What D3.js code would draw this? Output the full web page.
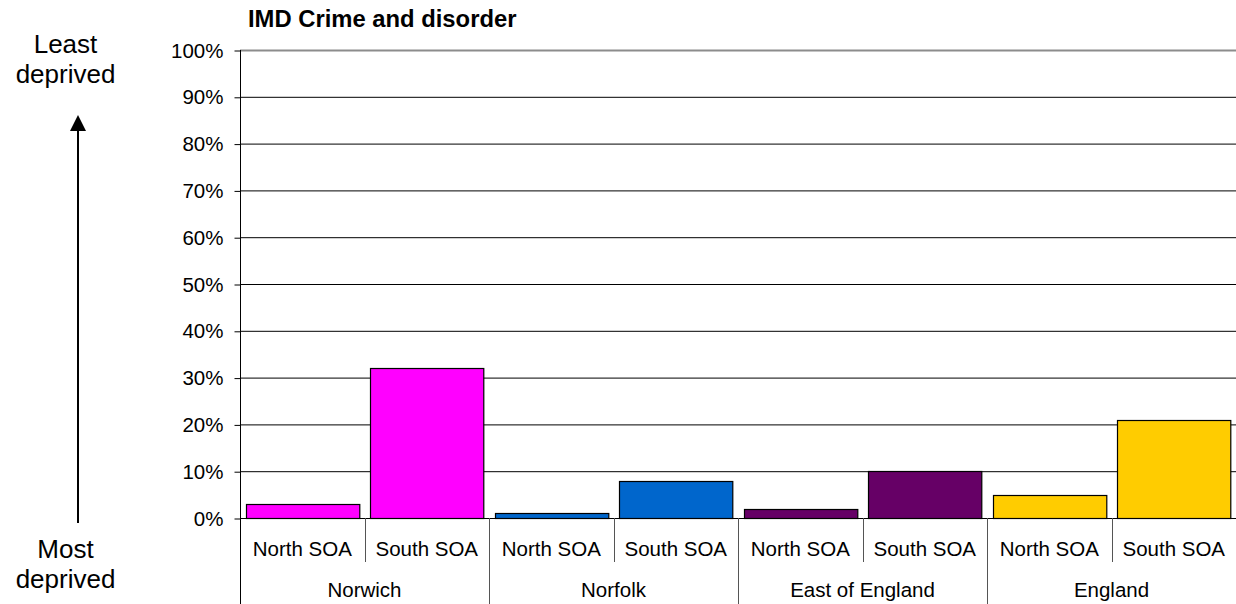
<!DOCTYPE html>
<html>
<head>
<meta charset="utf-8">
<script src="https://cdn.jsdelivr.net/npm/d3@7"></script>
<style>
  html, body { margin: 0; padding: 0; background: #fff; }
  svg { display: block; font-family: Arial, "Liberation Sans", sans-serif; }
</style>
</head>
<body>
<svg id="chart" width="1236" height="604"></svg>
<script>
// Areas and the two SOAs compared within each
const groups = ["Norwich", "Norfolk", "East of England", "England"];
const subs = ["North SOA", "South SOA"];
// Share of areas (%) per group: [North SOA, South SOA]
const norwichValues = [3, 32];
const norfolkValues = [1, 8];
const eastValues = [2, 10];
const englandValues = [5, 21];
const groupColors = ["#FF00FF", "#0066CC", "#660066", "#FFCC00"];
const yTicks = [0, 10, 20, 30, 40, 50, 60, 70, 80, 90, 100];

(function () {
  const valuesByGroup = [norwichValues, norfolkValues, eastValues, englandValues];
  const rows = [];
  groups.forEach((g, gi) => {
    subs.forEach((s, si) => {
      rows.push({ key: g + "|" + s, group: g, sub: s, gi, value: valuesByGroup[gi][si] });
    });
  });

  const svg = d3.select("#chart");
  const plotLeft = 240, plotRight = 1236, plotTop = 50, plotBottom = 518;

  const x = d3.scaleBand()
    .domain(rows.map(d => d.key))
    .range([plotLeft, plotRight])
    .paddingInner(0.09)
    .paddingOuter(0.045);
  const step = (plotRight - plotLeft) / rows.length;

  const y = d3.scaleLinear().domain([0, 100]).range([plotBottom, plotTop]);

  // Gridlines
  svg.append("g")
    .selectAll("line")
    .data(yTicks.filter(t => t > 0))
    .join("line")
    .attr("x1", plotLeft).attr("x2", plotRight)
    .attr("y1", d => y(d) + 0.5).attr("y2", d => y(d) + 0.5)
    .attr("stroke", d => d === 100 ? "#8c8c8c" : "#000")
    .attr("stroke-width", d => d === 100 ? 2 : 1);

  // Y axis
  const yAxis = d3.axisLeft(y)
    .tickValues(yTicks)
    .tickSize(6)
    .tickPadding(11)
    .tickFormat(d => d + "%");
  const yg = svg.append("g")
    .attr("transform", `translate(${plotLeft + 0.5},0.5)`)
    .call(yAxis);
  yg.select(".domain").remove();
  yg.selectAll(".tick line").attr("stroke", "#000");
  yg.selectAll(".tick text")
    .attr("font-size", "20.5px")
    .attr("fill", "#000")
    .attr("font-family", "Arial, 'Liberation Sans', sans-serif");

  // Bars
  svg.append("g")
    .selectAll("rect")
    .data(rows)
    .join("rect")
    .attr("x", d => Math.round(x(d.key)) + 0.5)
    .attr("y", d => Math.round(y(d.value)) + 0.5)
    .attr("width", x.bandwidth())
    .attr("height", d => plotBottom - Math.round(y(d.value)))
    .attr("fill", d => groupColors[d.gi])
    .attr("stroke", "#000")
    .attr("stroke-width", 1.2);

  // Baseline
  svg.append("line")
    .attr("x1", plotLeft).attr("x2", plotRight)
    .attr("y1", plotBottom + 0.5).attr("y2", plotBottom + 0.5)
    .attr("stroke", "#000");

  // Vertical axis line, continuing down as the first category divider
  svg.append("line")
    .attr("x1", plotLeft + 0.5).attr("x2", plotLeft + 0.5)
    .attr("y1", plotTop).attr("y2", 604)
    .attr("stroke", "#000");

  // Dividers between SOAs within a group
  svg.append("g")
    .selectAll("line")
    .data(groups)
    .join("line")
    .attr("x1", (d, i) => Math.round(plotLeft + step * (2 * i + 1)) + 0.5)
    .attr("x2", (d, i) => Math.round(plotLeft + step * (2 * i + 1)) + 0.5)
    .attr("y1", plotBottom).attr("y2", 562)
    .attr("stroke", "#555");

  // Dividers between groups
  svg.append("g")
    .selectAll("line")
    .data(groups.slice(1))
    .join("line")
    .attr("x1", (d, i) => Math.round(plotLeft + step * 2 * (i + 1)) + 0.5)
    .attr("x2", (d, i) => Math.round(plotLeft + step * 2 * (i + 1)) + 0.5)
    .attr("y1", plotBottom).attr("y2", 604)
    .attr("stroke", "#555");

  // SOA labels
  svg.append("g")
    .selectAll("text")
    .data(rows)
    .join("text")
    .attr("x", d => x(d.key) + x.bandwidth() / 2)
    .attr("y", 556)
    .attr("text-anchor", "middle")
    .attr("font-size", "20.5px")
    .attr("fill", "#000")
    .text(d => d.sub);

  // Group labels
  svg.append("g")
    .selectAll("text")
    .data(groups)
    .join("text")
    .attr("x", (d, i) => plotLeft + step * (2 * i + 1))
    .attr("y", 597)
    .attr("text-anchor", "middle")
    .attr("font-size", "20.5px")
    .attr("fill", "#000")
    .text(d => d);

  // Title
  svg.append("text")
    .attr("x", 248)
    .attr("y", 27)
    .attr("font-size", "23.8px")
    .attr("font-weight", "bold")
    .attr("fill", "#000")
    .text("IMD Crime and disorder");

  // Deprivation direction annotation
  const ann = svg.append("g").attr("font-size", "26px").attr("fill", "#000").attr("text-anchor", "middle");
  ann.append("text").attr("x", 65.5).attr("y", 53).text("Least");
  ann.append("text").attr("x", 65.5).attr("y", 83).text("deprived");
  ann.append("text").attr("x", 65.5).attr("y", 558).text("Most");
  ann.append("text").attr("x", 65.5).attr("y", 588).text("deprived");

  svg.append("line")
    .attr("x1", 78).attr("x2", 78)
    .attr("y1", 130).attr("y2", 523)
    .attr("stroke", "#000")
    .attr("stroke-width", 2);
  svg.append("path")
    .attr("d", "M78,115 L70,131 L86,131 Z")
    .attr("fill", "#000");
})();
</script>
</body>
</html>
